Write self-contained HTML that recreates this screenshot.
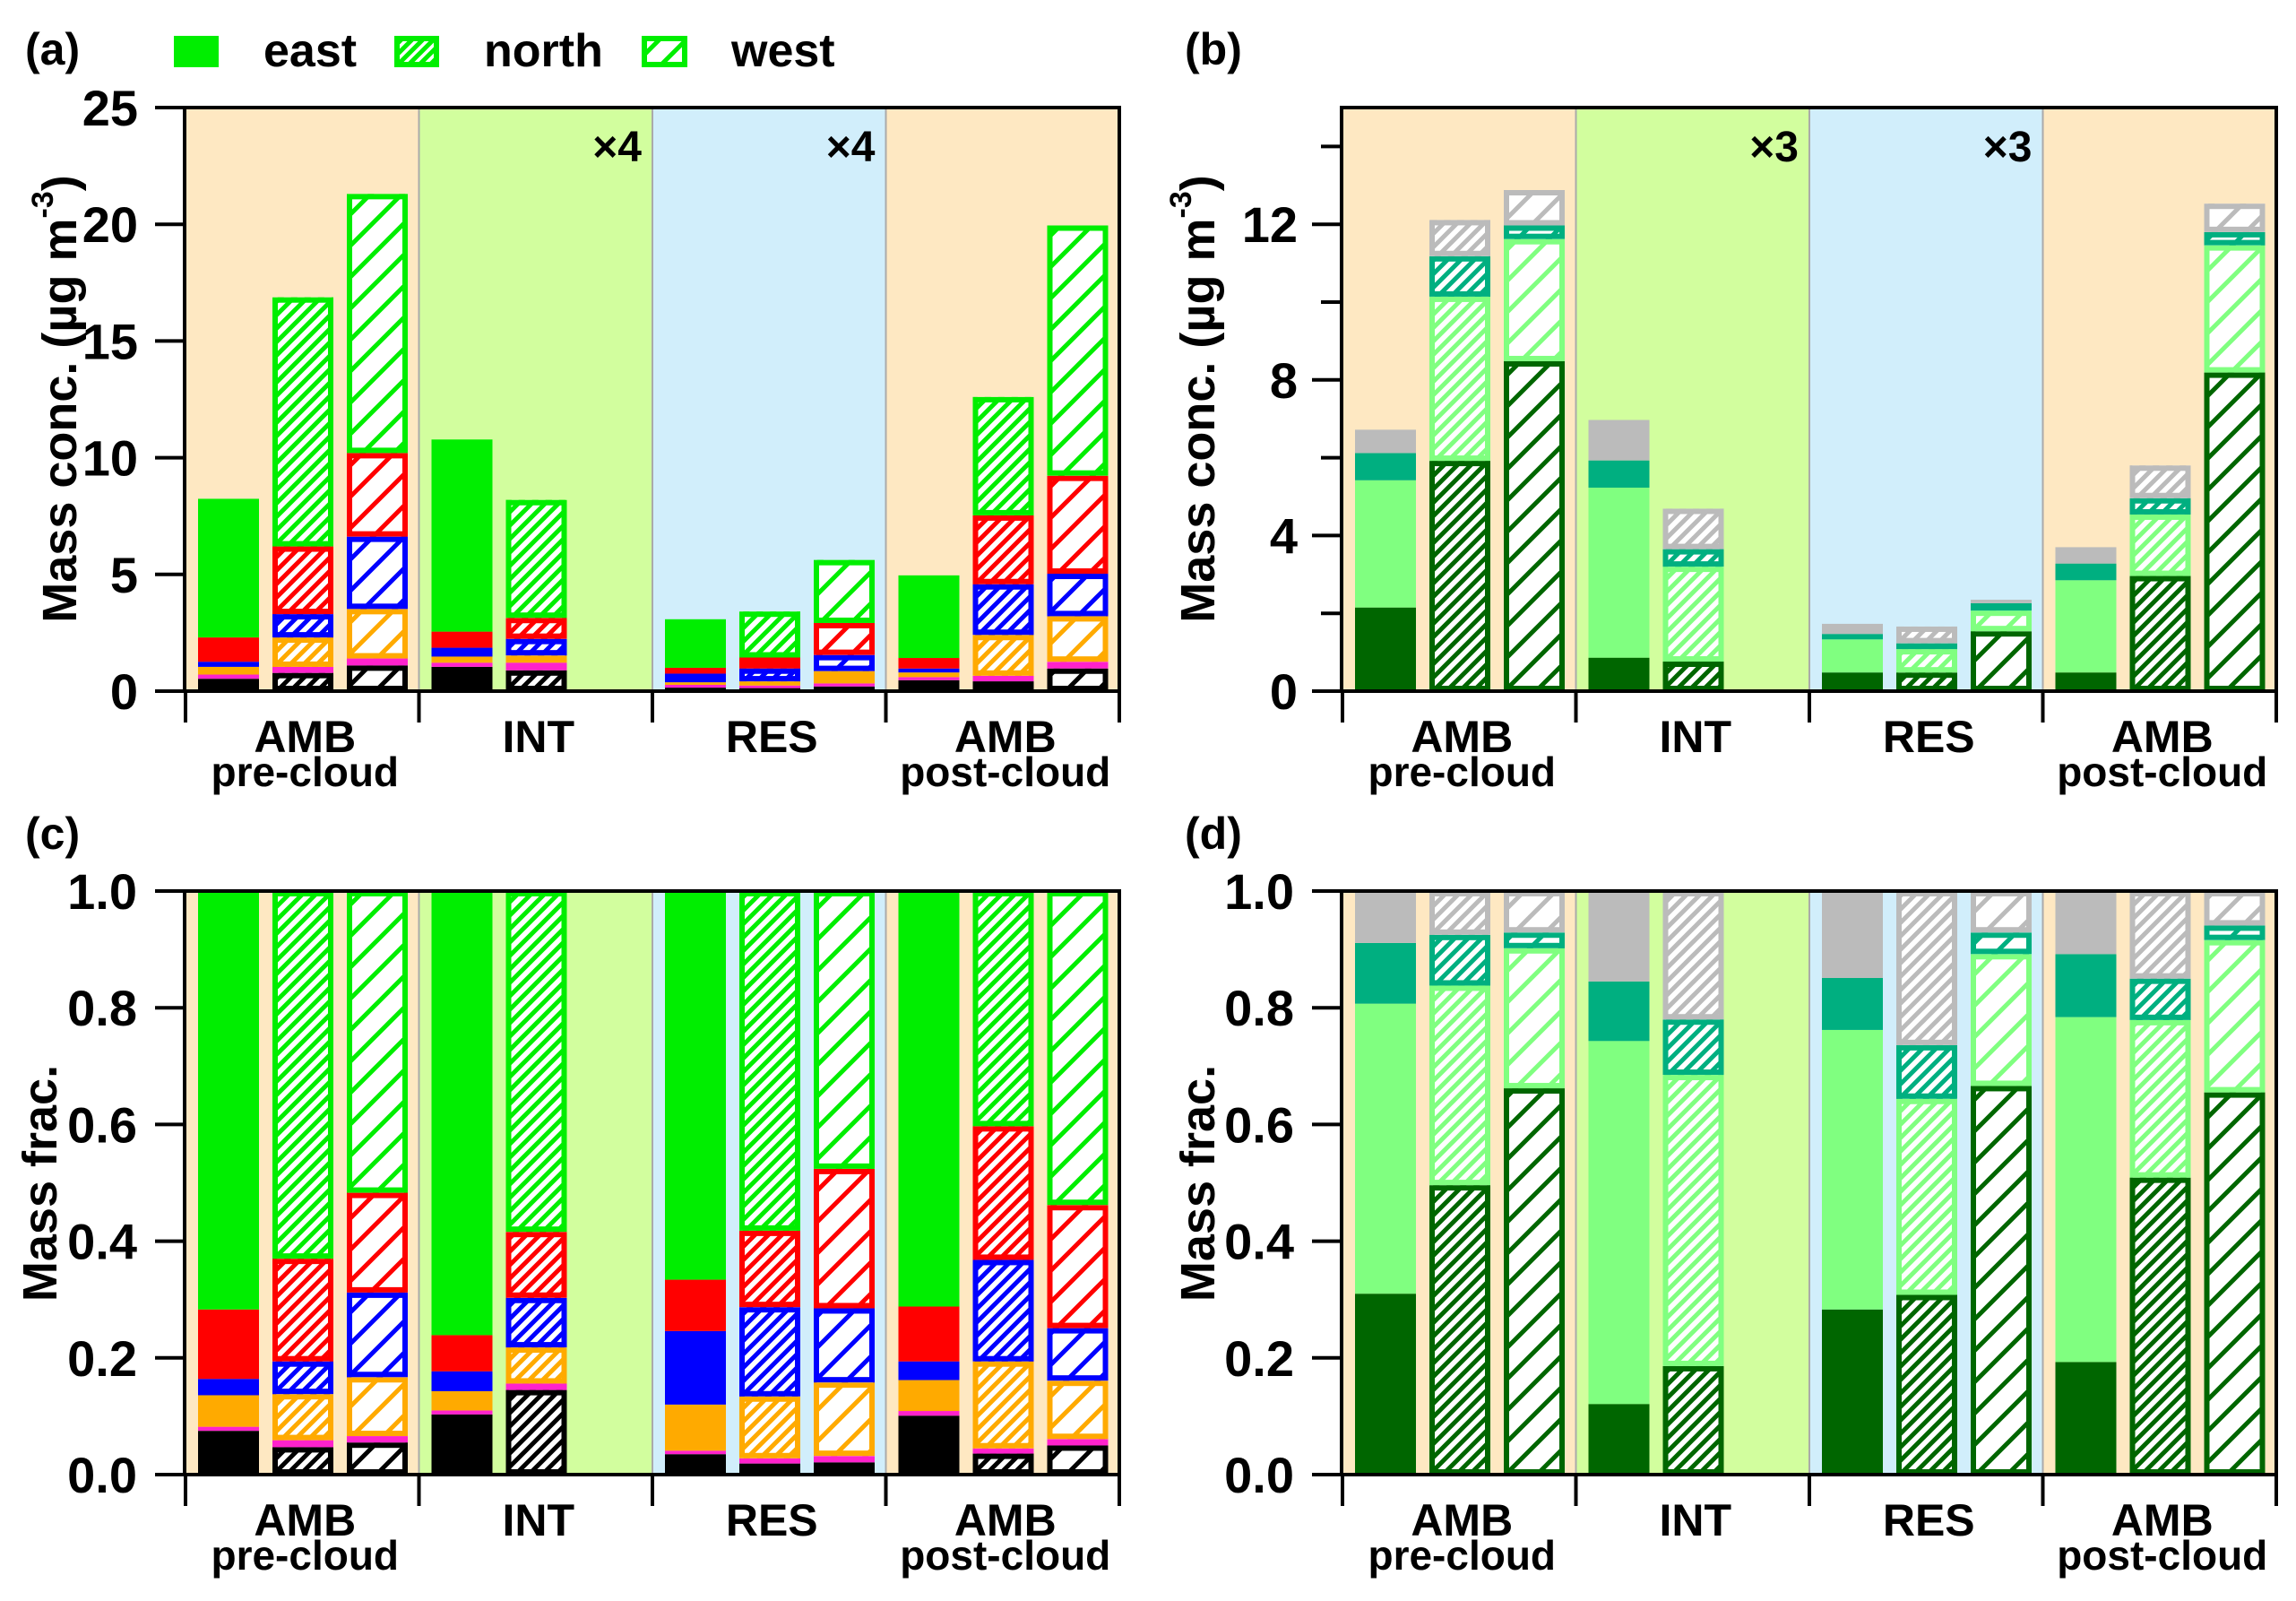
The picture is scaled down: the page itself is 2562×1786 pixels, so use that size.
<!DOCTYPE html>
<html><head><meta charset="utf-8">
<style>
html,body{margin:0;padding:0;background:#fff;}
svg{display:block;font-family:"Liberation Sans",Arial,sans-serif;font-weight:bold;}
</style></head>
<body>
<svg id="chart" xmlns="http://www.w3.org/2000/svg" width="2562" height="1786" viewBox="0 0 2562 1786">
<defs id="defs"></defs>
<g id="layer"></g>
</svg>
<script>
// ---- data ----
const categories = ["AMB","INT","RES","AMB"];
const subLabels = ["pre-cloud","","","post-cloud"];
const sources = ["east","north","west"];
const barGroup = [0,0,0,1,1,2,2,2,3,3,3];
const barSource = [0,1,2,0,1,0,1,2,0,1,2];
const scaleLabelsA = ["","×4","×4",""];
const scaleLabelsB = ["","×3","×3",""];

// panel (a) mass conc. (µg m-3)
const aBlack   = [0.53,0.78,1.1,1.04,0.89,0.15,0.13,0.2,0.47,0.42,0.97];
const aMagenta = [0.18,0.26,0.3,0.18,0.33,0.12,0.11,0.13,0.13,0.24,0.29];
const aOrange  = [0.33,1.26,2.12,0.26,0.31,0.11,0.18,0.53,0.2,1.75,1.95];
const aBlue    = [0.22,1.0,3.1,0.38,0.71,0.37,0.55,0.69,0.17,2.17,1.82];
const aRed     = [1.04,2.9,3.58,0.69,0.9,0.25,0.47,1.37,0.45,2.95,4.2];
const aGreen   = [5.94,10.67,11.1,8.23,5.05,2.08,1.97,2.7,3.54,5.07,10.72];
// panel (b)
const bDark  = [2.15,5.92,8.48,0.86,0.76,0.48,0.48,1.54,0.48,2.96,8.19];
const bLight = [3.27,4.22,3.14,4.37,2.44,0.85,0.6,0.53,2.37,1.58,3.27];
const bTeal  = [0.7,1.04,0.35,0.7,0.45,0.14,0.15,0.19,0.43,0.42,0.34];
const bGray  = [0.6,0.93,0.91,1.04,1.04,0.26,0.43,0.09,0.42,0.84,0.73];
// panel (c) mass fractions
const cBlack   = [0.075,0.047,0.055,0.103,0.145,0.035,0.019,0.021,0.101,0.036,0.05];
const cMagenta = [0.007,0.012,0.011,0.007,0.011,0.006,0.009,0.011,0.008,0.009,0.011];
const cOrange  = [0.054,0.079,0.101,0.033,0.062,0.079,0.106,0.126,0.053,0.149,0.1];
const cBlue    = [0.028,0.056,0.145,0.034,0.085,0.126,0.153,0.127,0.032,0.174,0.09];
const cRed     = [0.119,0.176,0.171,0.062,0.113,0.088,0.131,0.239,0.094,0.229,0.211];
const cGreen   = [0.717,0.63,0.517,0.761,0.584,0.666,0.582,0.476,0.712,0.403,0.538];
// panel (d)
const dDark  = [0.31,0.496,0.662,0.121,0.186,0.283,0.308,0.666,0.193,0.509,0.655];
const dLight = [0.497,0.342,0.24,0.622,0.499,0.479,0.336,0.226,0.591,0.27,0.261];
const dTeal  = [0.104,0.087,0.027,0.102,0.095,0.089,0.092,0.037,0.108,0.071,0.025];
const dGray  = [0.089,0.075,0.071,0.155,0.22,0.149,0.264,0.071,0.108,0.15,0.059];

const ticksA = [0,5,10,15,20,25];
const ticksB = [0,2,4,6,8,10,12,14];
const tickLabelsB = ["0","","4","","8","","12",""];
const ticksC = [0,0.2,0.4,0.6,0.8,1.0];
const tickLabelsC = ["0.0","0.2","0.4","0.6","0.8","1.0"];

// ---- drawing ----
const NS = "http://www.w3.org/2000/svg";
const defs = document.getElementById("defs");
const layer = document.getElementById("layer");
const bgColors = ["#FEE8C2","#D2FE9E","#D1EEFB","#FEE8C2"];
const patCache = {};
function el(tag, attrs, parent){
  const e = document.createElementNS(NS, tag);
  for (const k in attrs) e.setAttribute(k, attrs[k]);
  (parent||layer).appendChild(e);
  return e;
}
function pattern(color, s){
  const id = "p" + color.replace("#","") + "_" + s;
  if (patCache[id]) return id;
  patCache[id] = true;
  const p = el("pattern",{id:id,patternUnits:"userSpaceOnUse",width:s,height:s},defs);
  el("rect",{x:0,y:0,width:s,height:s,fill:"#fff"},p);
  el("path",{d:`M0,${s} L${s},0 M${-s/2},${s/2} L${s/2},${-s/2} M${s/2},${1.5*s} L${1.5*s},${s/2}`,stroke:color,"stroke-width":5},p);
  return id;
}
function txt(x,y,str,size,anchor,name,extra){
  const t = el("text",Object.assign({x:x,y:y,"font-size":size,"text-anchor":anchor||"start",fill:"#000"},extra||{}));
  t.textContent = str;
  
  
  return t;
}

function drawPanel(cfg){
  const g = el("g",{});
  
  
  const x0=cfg.x0, x1=cfg.x1, yT=cfg.yTop, yZ=cfg.yZero;
  const gw=(x1-x0)/4;
  const yScale = v => yZ - v/cfg.max*(yZ-yT);
  for (let i=0;i<4;i++){
    const r = el("rect",{x:x0+i*gw,y:yT,width:gw,height:yZ-yT,fill:bgColors[i]},g);
    
    
  }
  for (let i=1;i<4;i++){
    const l = el("line",{x1:x0+i*gw,x2:x0+i*gw,y1:yT,y2:yZ,stroke:"#aaa","stroke-width":2},g);
    
    
  }
  const offs=[14,97,180], bw=68;
  for (let b=0;b<barGroup.length;b++){
    const gi=barGroup[b], si=barSource[b];
    const bx = x0 + gi*gw + offs[si];
    let cum = 0;
    for (let k=0;k<cfg.series.length;k++){
      const v = cfg.series[k][b];
      const ya = yScale(cum), yb = yScale(cum+v);
      cum += v;
      const h = ya-yb;
      const col = cfg.colors[k];
      let r;
      if (si===0 || h < 14){
        r = el("rect",{x:bx,y:yb,width:bw,height:h,fill:col},g);
      } else {
        const pid = pattern(col, si===1?15:35);
        el("rect",{x:bx,y:yb,width:bw,height:h,fill:`url(#${pid})`},g);
        r = el("rect",{x:bx+3,y:yb+3,width:bw-6,height:h-6,fill:"none",stroke:col,"stroke-width":6},g);
      }
      
      
    }
  }
  const fr = el("rect",{x:x0-1,y:yT,width:x1-x0+1,height:yZ-yT,fill:"none",stroke:"#000","stroke-width":4},g);
  
  
  for (let i=0;i<=4;i++){
    const l = el("line",{x1:x0+i*gw,x2:x0+i*gw,y1:yZ,y2:yZ+35,stroke:"#000","stroke-width":4},g);
    
    
  }
  for (let i=0;i<4;i++){
    const cx = x0+i*gw+gw/2+3;
    txt(cx, yZ+68, categories[i], 50, "middle", "x-label-"+categories[i].toLowerCase());
    if (subLabels[i]) txt(cx, yZ+106, subLabels[i], 46, "middle", "x-sublabel-"+subLabels[i]);
    if (cfg.scaleLabels && cfg.scaleLabels[i]) txt(x0+(i+1)*gw-12, yT+60, cfg.scaleLabels[i], 48, "end", "scale-factor-label");
  }
  for (let i=0;i<cfg.ticks.length;i++){
    const y = yScale(cfg.ticks[i]);
    const lab = cfg.tickLabels[i];
    const len = lab ? 34 : 24;
    const l = el("line",{x1:x0-len,x2:x0,y1:y,y2:y,stroke:"#000","stroke-width":4},g);
    
    
    if (lab) txt(cfg.labelRight, y+20, lab, 56, "end", "y-tick-label");
  }
  const tx = cfg.titleX;
  const t = el("text",{x:0,y:0,"font-size":54,"text-anchor":"middle",fill:"#000",transform:`translate(${tx+19},${cfg.titleY}) rotate(-90)`});
  
  
  if (cfg.unit){
    t.appendChild(document.createTextNode("Mass conc. (µg m"));
    const sup = document.createElementNS(NS,"tspan");
    sup.setAttribute("font-size","34");
    sup.setAttribute("dy","-26");
    sup.textContent="-3";
    t.appendChild(sup);
    const cl = document.createElementNS(NS,"tspan");
    cl.setAttribute("dy","26");
    cl.textContent=")";
    t.appendChild(cl);
  } else {
    t.textContent = "Mass frac.";
  }
  txt(cfg.tagX, cfg.tagY, cfg.tag, 50, "start", "panel-label");
}

const colsA = ["#000000","#FF22CC","#FFAA00","#0000FF","#FF0000","#00EE00"];
const namesA = ["black","magenta","orange","blue","red","green"];
const colsB = ["#006600","#80FF80","#00AF80","#BBBBBB"];
const namesB = ["dark-green","light-green","teal","gray"];

drawPanel({name:"panel-a",x0:207,x1:1249,yTop:120,yZero:771,max:25,series:[aBlack,aMagenta,aOrange,aBlue,aRed,aGreen],colors:colsA,seriesNames:namesA,ticks:ticksA,tickLabels:ticksA.map(String),labelRight:154,titleX:66,titleY:445,unit:true,tag:"(a)",tagX:28,tagY:72,scaleLabels:scaleLabelsA});
drawPanel({name:"panel-b",x0:1498,x1:2540,yTop:120,yZero:771,max:15,series:[bDark,bLight,bTeal,bGray],colors:colsB,seriesNames:namesB,ticks:ticksB,tickLabels:tickLabelsB,labelRight:1448,titleX:1336,titleY:445,unit:true,tag:"(b)",tagX:1322,tagY:72,scaleLabels:scaleLabelsB});
drawPanel({name:"panel-c",x0:207,x1:1249,yTop:994,yZero:1645,max:1,series:[cBlack,cMagenta,cOrange,cBlue,cRed,cGreen],colors:colsA,seriesNames:namesA,ticks:ticksC,tickLabels:tickLabelsC,labelRight:153,titleX:44,titleY:1320,unit:false,tag:"(c)",tagX:28,tagY:947,scaleLabels:null});
drawPanel({name:"panel-d",x0:1498,x1:2540,yTop:994,yZero:1645,max:1,series:[dDark,dLight,dTeal,dGray],colors:colsB,seriesNames:namesB,ticks:ticksC,tickLabels:tickLabelsC,labelRight:1444,titleX:1336,titleY:1320,unit:false,tag:"(d)",tagX:1322,tagY:947,scaleLabels:null});

const lg = el("g",{});


const s1 = el("rect",{x:194,y:40,width:50,height:35,fill:"#00EE00"},lg);


txt(294,74,"east",52,"start","legend-label-east");
const p1 = pattern("#00EE00",12);
el("rect",{x:440,y:40,width:50,height:35,fill:`url(#${p1})`},lg);
const s2 = el("rect",{x:443,y:43,width:44,height:29,fill:"none",stroke:"#00EE00","stroke-width":6},lg);


txt(540,74,"north",52,"start","legend-label-north");
const p2 = pattern("#00EE00",30);
el("rect",{x:716,y:40,width:51,height:35,fill:`url(#${p2})`},lg);
const s3 = el("rect",{x:719,y:43,width:45,height:29,fill:"none",stroke:"#00EE00","stroke-width":6},lg);


txt(816,74,"west",52,"start","legend-label-west");
</script>
</body></html>
